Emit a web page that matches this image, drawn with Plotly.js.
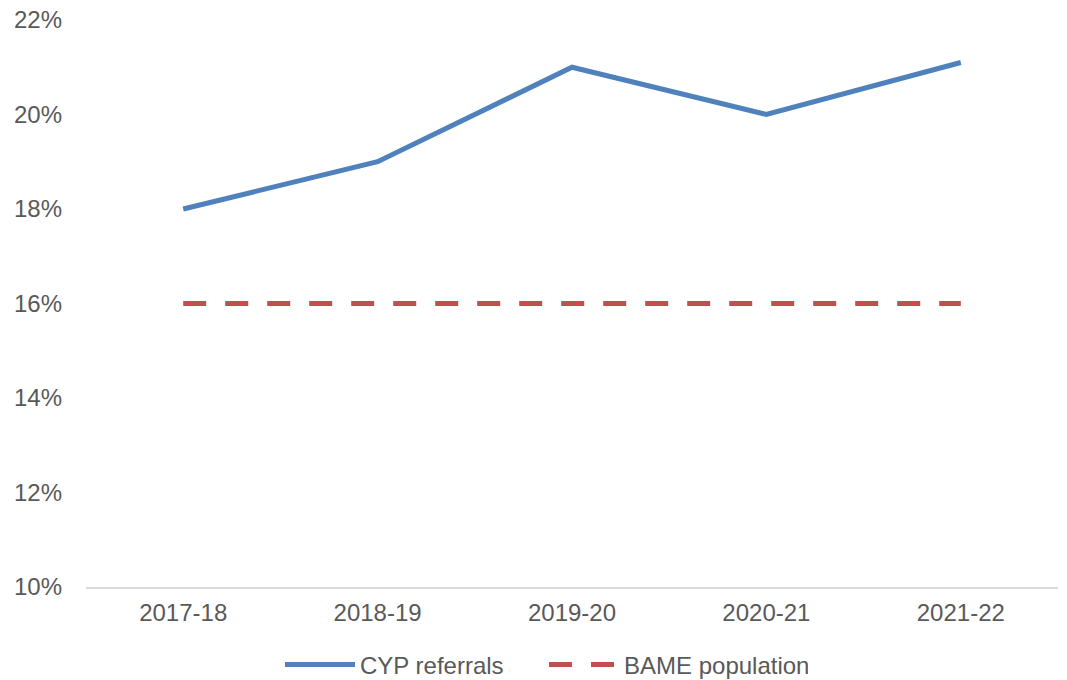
<!DOCTYPE html>
<html>
<head>
<meta charset="utf-8">
<script src="https://cdn.plot.ly/plotly-3.0.1.min.js"></script>
<style>html,body{margin:0;padding:0;background:#fff;}#chart{width:1067px;height:680px;}</style>
</head>
<body>
<div id="chart"></div>
<script>
const categories = ["2017-18", "2018-19", "2019-20", "2020-21", "2021-22"];
const cypReferrals = [0.18, 0.19, 0.21, 0.20, 0.211];
const bamePopulation = [0.16, 0.16, 0.16, 0.16, 0.16];
const yTicks = [0.10, 0.12, 0.14, 0.16, 0.18, 0.20, 0.22];

const traces = [
  {
    x: categories, y: cypReferrals, name: "CYP referrals", type: "scatter", mode: "lines",
    line: {color: "#4f81bd", width: 5}
  },
  {
    x: categories, y: bamePopulation, name: "BAME population", type: "scatter", mode: "lines",
    line: {color: "#c0504d", width: 5, dash: "23px,19px"}
  }
];

const layout = {
  width: 1067, height: 680,
  margin: {l: 86, r: 9, t: 20, b: 93, autoexpand: false},
  paper_bgcolor: "#fff", plot_bgcolor: "#fff",
  font: {family: "Liberation Sans, Arial, sans-serif", size: 24, color: "#595959"},
  showlegend: true,
  legend: {orientation: "h", x: 0.1996, xanchor: "left", y: -0.1376, yanchor: "middle",
    itemwidth: 70, entrywidth: 179, font: {size: 24, color: "#595959"}, traceorder: "normal"},
  xaxis: {
    type: "category", range: [-0.5, 4.5], showgrid: false, zeroline: false,
    showline: true, linecolor: "#d9d9d9", linewidth: 2, ticks: "",
    ticklabelstandoff: 3, fixedrange: true
  },
  yaxis: {
    range: [0.10, 0.22], tickvals: yTicks, tickformat: ".0%", showgrid: false,
    zeroline: false, showline: false, ticks: "", ticklabelstandoff: 23, fixedrange: true
  }
};

Plotly.newPlot("chart", traces, layout, {displayModeBar: false, staticPlot: true});
</script>
</body>
</html>
